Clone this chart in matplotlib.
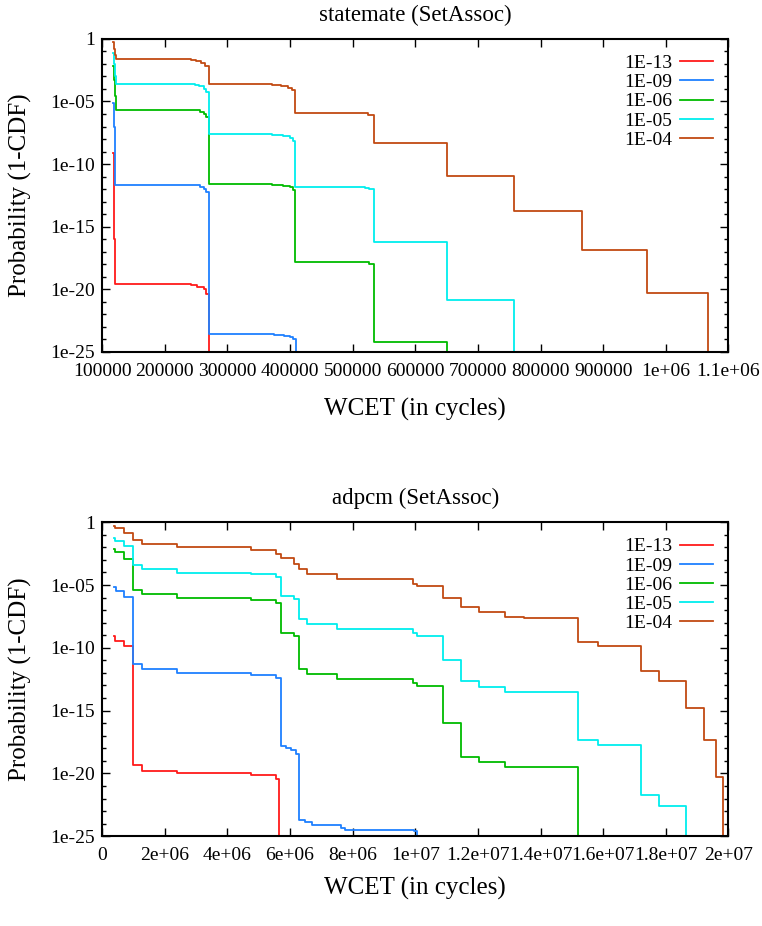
import numpy as np
import matplotlib
matplotlib.use("Agg")
import matplotlib.pyplot as plt
from matplotlib.ticker import FixedLocator, FixedFormatter, NullFormatter

plt.rcParams['font.family'] = ['Liberation Serif', 'DejaVu Serif']

labels = ['1E-13', '1E-09', '1E-06', '1E-05', '1E-04']
colors = ['#ff1a1a', '#1f80ff', '#00bb00', '#00eeee', '#c24a12']

# statemate: WCET (cycles) and log10 of 1-CDF, drawn as post steps
st_red_x = [117700, 118500, 119300, 120300, 242000, 252000, 262000, 266000, 270000]
st_red_y = [-9.15, -12, -16, -19.6, -19.65, -19.8, -20.0, -20.37, -26]
st_blue_x = [117700, 118800, 119800, 120800, 248000, 256000, 262000, 266000, 270000,
             375000, 390000, 400000, 405000, 410000]
st_blue_y = [-5.1, -7.0, -9.0, -11.66, -11.7, -11.8, -11.95, -12.2, -23.6,
             -23.65, -23.75, -23.85, -24.0, -26]
st_green_x = [117700, 119000, 120300, 121500, 248000, 256000, 262000, 266000, 270000,
              372000, 388000, 400000, 405000, 408700, 518000, 526000, 533500, 651000]
st_green_y = [-2.15, -3.3, -4.6, -5.64, -5.68, -5.8, -5.96, -6.25, -11.6,
              -11.64, -11.72, -11.84, -12.08, -17.8, -17.85, -18.0, -24.2, -26]
st_cyan_x = [117700, 119000, 120300, 121500, 248000, 255000, 262000, 266000, 270000,
             372000, 388000, 400000, 405000, 408700, 520000, 526000, 533500, 650500, 758000]
st_cyan_y = [-1.1, -2.0, -3.0, -3.62, -3.66, -3.8, -4.0, -4.24, -7.6,
             -7.64, -7.72, -7.92, -8.16, -11.84, -11.9, -11.96, -16.25, -20.85, -26]
st_brown_x = [117700, 119000, 120300, 121500, 242000, 250000, 258000, 264000, 270000,
              372000, 385000, 396000, 403000, 408700, 518000, 524000, 533500, 650500,
              758000, 866000, 969600, 1067000]
st_brown_y = [-0.25, -0.8, -1.3, -1.6, -1.66, -1.78, -1.9, -2.15, -3.62,
              -3.68, -3.78, -3.9, -4.05, -5.88, -5.95, -6.05, -8.33, -10.98,
              -13.78, -16.88, -20.29, -26]

# adpcm
ad_red_x = [0.383e6, 0.40e6, 0.702e6, 1.0e6, 1.287e6, 2.404e6, 4.745e6, 5.543e6, 5.66e6]
ad_red_y = [-9.07, -9.44, -9.85, -19.35, -19.8, -19.97, -20.15, -20.45, -26]
ad_blue_x = [0.383e6, 0.45e6, 0.702e6, 1.0e6, 1.287e6, 2.404e6, 4.745e6, 5.543e6, 5.70e6,
             5.88e6, 6.02e6, 6.18e6, 6.29e6, 6.47e6, 6.70e6, 7.63e6, 7.76e6, 9.96e6, 10.04e6]
ad_blue_y = [-5.12, -5.46, -5.95, -11.32, -11.71, -12.0, -12.17, -12.44, -17.8,
             -17.98, -18.17, -18.46, -23.7, -23.88, -24.08, -24.38, -24.5, -24.6, -26]
ad_green_x = [0.383e6, 0.40e6, 0.702e6, 1.0e6, 1.287e6, 2.404e6, 4.745e6, 5.543e6, 5.70e6,
              6.13e6, 6.29e6, 6.55e6, 7.51e6, 9.93e6, 10.04e6, 10.88e6, 11.47e6, 12.05e6,
              12.85e6, 15.18e6]
ad_green_y = [-2.12, -2.35, -2.93, -5.37, -5.71, -6.02, -6.2, -6.44, -8.78,
              -9.07, -11.71, -12.12, -12.49, -12.8, -13.05, -15.98, -18.66, -19.1,
              -19.51, -26]
ad_cyan_x = [0.383e6, 0.40e6, 0.702e6, 1.0e6, 1.287e6, 2.404e6, 4.745e6, 5.543e6, 5.70e6,
             6.13e6, 6.29e6, 6.55e6, 7.51e6, 9.93e6, 10.04e6, 10.88e6, 11.47e6, 12.05e6,
             12.85e6, 15.18e6, 15.82e6, 17.2e6, 17.79e6, 18.65e6]
ad_cyan_y = [-1.22, -1.5, -1.88, -3.41, -3.71, -4.02, -4.15, -4.39, -5.85,
             -6.15, -7.73, -8.10, -8.5, -8.78, -9.02, -10.98, -12.68, -13.1,
             -13.54, -17.32, -17.73, -21.7, -22.56, -26]
ad_brown_x = [0.383e6, 0.40e6, 0.702e6, 1.0e6, 1.287e6, 2.404e6, 4.745e6, 5.543e6, 5.70e6,
              6.13e6, 6.29e6, 6.55e6, 7.51e6, 9.93e6, 10.04e6, 10.88e6, 11.47e6, 12.05e6,
              12.85e6, 13.48e6, 15.18e6, 15.82e6, 17.2e6, 17.79e6, 18.63e6, 19.22e6,
              19.59e6, 19.84e6]
ad_brown_y = [-0.29, -0.49, -0.85, -1.39, -1.76, -1.95, -2.17, -2.49, -2.85,
              -3.34, -3.76, -4.12, -4.5, -4.88, -5.05, -6.02, -6.76, -7.12,
              -7.56, -7.63, -9.51, -9.88, -11.83, -12.68, -14.76, -17.32,
              -20.32, -26]

st_xticks = [100000, 200000, 300000, 400000, 500000, 600000, 700000, 800000, 900000, 1000000, 1100000]
st_xticklabels = ['100000', '200000', '300000', '400000', '500000', '600000', '700000',
                  '800000', '900000', '1e+06', '1.1e+06']
ad_xticks = [0, 2e6, 4e6, 6e6, 8e6, 1e7, 1.2e7, 1.4e7, 1.6e7, 1.8e7, 2e7]
ad_xticklabels = ['0', '2e+06', '4e+06', '6e+06', '8e+06', '1e+07', '1.2e+07', '1.4e+07',
                  '1.6e+07', '1.8e+07', '2e+07']
yticks = [1, 1e-5, 1e-10, 1e-15, 1e-20, 1e-25]
yticklabels = ['1', '1e-05', '1e-10', '1e-15', '1e-20', '1e-25']

fig = plt.figure(figsize=(7.62, 9.26), dpi=100)
ax1 = fig.add_axes([0.134, 0.620, 0.822, 0.338])
ax2 = fig.add_axes([0.134, 0.097, 0.822, 0.339])

panels = [
    (ax1, 'statemate (SetAssoc)',
     [(st_red_x, st_red_y), (st_blue_x, st_blue_y), (st_green_x, st_green_y),
      (st_cyan_x, st_cyan_y), (st_brown_x, st_brown_y)],
     (100000, 1100000), st_xticks, st_xticklabels, 13),
    (ax2, 'adpcm (SetAssoc)',
     [(ad_red_x, ad_red_y), (ad_blue_x, ad_blue_y), (ad_green_x, ad_green_y),
      (ad_cyan_x, ad_cyan_y), (ad_brown_x, ad_brown_y)],
     (0, 2e7), ad_xticks, ad_xticklabels, 9),
]

for ax, title, series, xlim, xt, xtl, xpad in panels:
    for (xs, ys), lab, col in zip(series, labels, colors):
        ax.step(xs, np.power(10.0, ys), where='post', color=col, lw=1.3, label=lab)
    ax.set_yscale('log')
    ax.set_ylim(1e-25, 1)
    ax.set_xlim(*xlim)
    ax.xaxis.set_major_locator(FixedLocator(xt))
    ax.xaxis.set_major_formatter(FixedFormatter(xtl))
    ax.yaxis.set_major_locator(FixedLocator(yticks))
    ax.yaxis.set_major_formatter(FixedFormatter(yticklabels))
    ax.yaxis.set_minor_locator(FixedLocator([10.0 ** -k for k in range(26)]))
    ax.yaxis.set_minor_formatter(NullFormatter())
    ax.tick_params(which='both', direction='in', top=True, right=True, labelsize=14,
                   width=1.0)
    ax.tick_params(which='major', length=6)
    ax.tick_params(axis='x', which='major', pad=8)
    ax.tick_params(axis='y', which='major', pad=5)
    ax.tick_params(which='minor', length=3)
    for s in ax.spines.values():
        s.set_linewidth(1.5)
    ax.set_title(title, fontsize=16.5, pad=13)
    ax.set_xlabel('WCET (in cycles)', fontsize=18, labelpad=xpad)
    ax.set_ylabel('Probability (1-CDF)', fontsize=18, labelpad=13)
    ax.legend(loc='upper right', frameon=False, markerfirst=False, fontsize=14,
              handlelength=1.7, labelspacing=0.08, borderaxespad=0.4, handletextpad=0.4)

fig.savefig('out.png', dpi=100)
